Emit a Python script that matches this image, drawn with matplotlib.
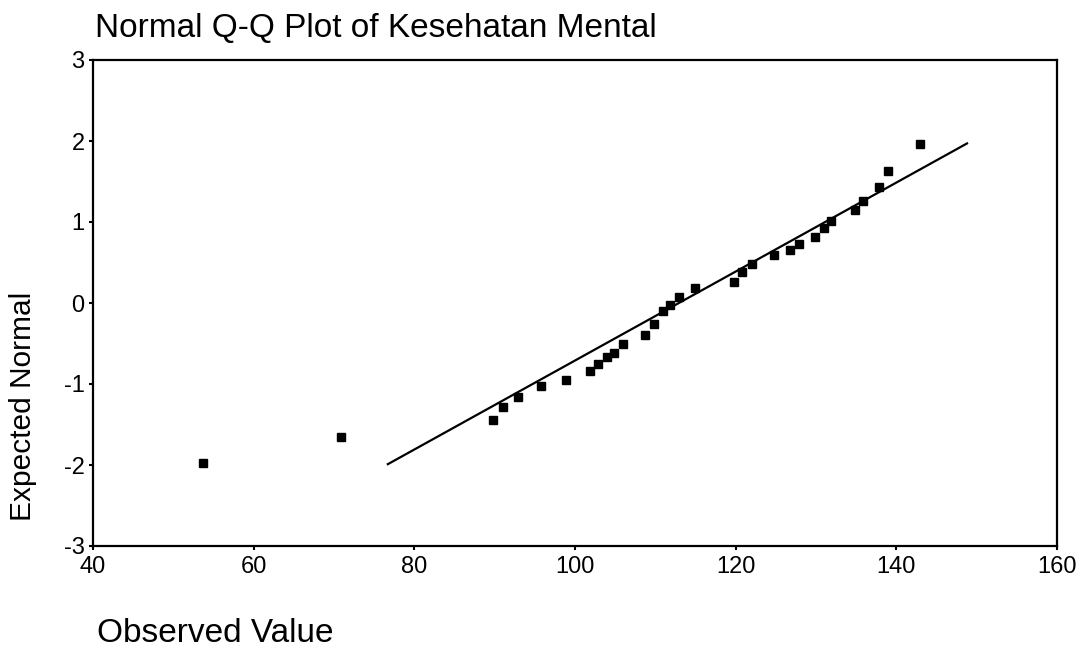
import matplotlib.pyplot as plt

plt.rcParams['font.family'] = ['Liberation Sans', 'DejaVu Sans']
plt.rcParams['axes.unicode_minus'] = False

observed = [53.7, 70.9, 89.8, 91.0, 92.9, 95.8, 98.9, 101.9, 102.9, 104.0,
            104.8, 106.0, 108.7, 109.8, 111.0, 111.8, 113.0, 114.9, 119.8, 120.8,
            122.0, 124.8, 126.8, 127.9, 129.9, 131.0, 131.9, 134.9, 135.9, 137.8,
            139.0, 142.9]
expected = [-1.98, -1.65, -1.45, -1.28, -1.16, -1.03, -0.95, -0.84, -0.75, -0.67,
            -0.62, -0.51, -0.40, -0.26, -0.10, -0.02, 0.08, 0.18, 0.26, 0.38,
            0.48, 0.59, 0.65, 0.73, 0.81, 0.93, 1.01, 1.15, 1.26, 1.43,
            1.63, 1.96]

# reference line endpoints
line_x = [76.7, 148.8]
line_y = [-1.99, 1.97]

x_ticks = [40, 60, 80, 100, 120, 140, 160]
y_ticks = [-3, -2, -1, 0, 1, 2, 3]

fig = plt.figure(figsize=(10.87, 6.49), dpi=100)
ax = fig.add_axes([93 / 1087, 1 - 546 / 649, (1057 - 93) / 1087, (546 - 60) / 649])

ax.plot(line_x, line_y, color='black', lw=1.6)
ax.plot(observed, expected, 's', color='black', ms=5.5, mec='black')

ax.set_xlim(40, 160)
ax.set_ylim(-3, 3)
ax.set_xticks(x_ticks)
ax.set_yticks(y_ticks)
ax.tick_params(axis='both', direction='out', length=3, width=1.5, labelsize=17, pad=3)
ax.tick_params(axis='x', pad=4)
for s in ax.spines.values():
    s.set_linewidth(1.6)

fig.text(95 / 1087, 1 - 37 / 649, 'Normal Q-Q Plot of Kesehatan Mental',
         fontsize=24, ha='left', va='baseline')
fig.text(97 / 1087, 1 - 642 / 649, 'Observed Value',
         fontsize=24, ha='left', va='baseline')
fig.text(23 / 1087, 1 - 406 / 649, 'Expected Normal',
         fontsize=21.5, rotation=90, ha='center', va='center')

fig.savefig('out.png', dpi=100)
